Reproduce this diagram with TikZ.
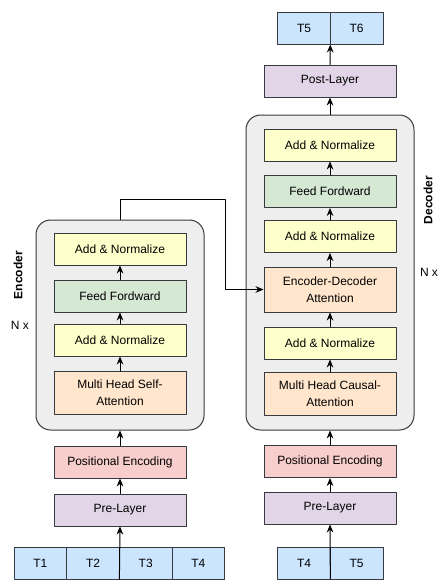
\documentclass[tikz,border=0pt]{standalone}
\usepackage{fontspec}
\setmainfont{Liberation Sans}
\usetikzlibrary{arrows}
\usetikzlibrary{arrows.meta}
\usetikzlibrary{positioning}

\definecolor{edgegray}{HTML}{36393D}
\definecolor{stackfill}{HTML}{EEEEEE}
\definecolor{addfill}{HTML}{FFFFCC}
\definecolor{ffwdfill}{HTML}{D5E8D4}
\definecolor{attnfill}{HTML}{FFE6CC}
\definecolor{posfill}{HTML}{F8CECC}
\definecolor{layerfill}{HTML}{E1D5E7}
\definecolor{tokfill}{HTML}{CCE5FF}

\tikzset{
  blk/.style={draw=edgegray,line width=0.75pt,minimum width=99pt,minimum height=24pt,
    inner sep=0pt,align=center,font=\fontsize{9}{12.5}\selectfont},
  addnorm/.style={blk,fill=addfill},
  ffwd/.style={blk,fill=ffwdfill},
  attn/.style={blk,fill=attnfill,minimum height=32.5pt},
  posenc/.style={blk,fill=posfill},
  layer/.style={blk,fill=layerfill},
  tok/.style={blk,fill=tokfill,minimum width=39.5pt,outer sep=0pt},
  stack/.style={draw=edgegray,fill=stackfill,line width=0.75pt,rounded corners=11pt,inner sep=0pt},
  side/.style={font=\fontsize{9}{11}\selectfont,inner sep=0pt},
  flow/.style={->,line width=0.75pt,black},
}

\begin{document}
\begin{tikzpicture}[line cap=round,line join=round,>={Stealth[length=6pt,width=5pt]},x=0.75pt,y=-0.75pt]
\useasboundingbox (0,0) rectangle (446,586);
% containers
\node[stack,minimum width=126pt,minimum height=157.5pt] (enc) at (120,325) {};
\node[stack,minimum width=126pt,minimum height=236.25pt] (dec) at (330,272.5) {};
\node[side,font=\fontsize{9}{11}\selectfont\bfseries,rotate=90] (enclab) at (18,275) {Encoder};
\node[side] (encn) at (20,325) {N x};
\node[side,font=\fontsize{9}{11}\selectfont\bfseries,rotate=90] (declab) at (428,200) {Decoder};
\node[side] (decn) at (429,272) {N x};

% encoder side
\node[tok] (t1) at (40.4,563) {T1};
\node[tok,right=0pt of t1] (t2) {T2};
\node[tok,right=0pt of t2] (t3) {T3};
\node[tok,right=0pt of t3] (t4) {T4};
\node[layer] (epre) at (120,510) {Pre-Layer};
\node[posenc] (epos) at (120,462) {Positional Encoding};
\node[attn] (eatt) at (120,393) {Multi Head Self-\\Attention};
\node[addnorm] (eadd1) at (120,340) {Add \& Normalize};
\node[ffwd] (effw) at (120,296) {Feed Fordward};
\node[addnorm] (eadd2) at (120,249) {Add \& Normalize};

% decoder side
\node[tok] (d4) at (304,563) {T4};
\node[tok,right=0pt of d4] (d5) {T5};
\node[layer] (dpre) at (330,508) {Pre-Layer};
\node[posenc] (dpos) at (330,461.5) {Positional Encoding};
\node[attn] (datt) at (330,394) {Multi Head Causal-\\Attention};
\node[addnorm] (dadd1) at (330,343) {Add \& Normalize};
\node[attn,minimum height=33.75pt] (dcross) at (330,289.5) {Encoder-Decoder\\Attention};
\node[addnorm] (dadd2) at (330,236.5) {Add \& Normalize};
\node[ffwd] (dffw) at (330,191.5) {Feed Fordward};
\node[addnorm] (dadd3) at (330,145) {Add \& Normalize};
\node[layer] (dpost) at (330,81) {Post-Layer};
\node[tok] (o5) at (304,28.5) {T5};
\node[tok,right=0pt of o5] (o6) {T6};

% arrows
\draw[flow] (t2.south east) -- (epre.south);
\draw[flow] (epre.north) -- (epos.south);
\draw[flow] (epos.north) -- (enc.south);
\draw[flow] (eatt.north) -- (eadd1.south);
\draw[flow] (eadd1.north) -- (effw.south);
\draw[flow] (effw.north) -- (eadd2.south);
\draw[flow] (d4.south east) -- (dpre.south);
\draw[flow] (dpre.north) -- (dpos.south);
\draw[flow] (dpos.north) -- (dec.south);
\draw[flow] (datt.north) -- (dadd1.south);
\draw[flow] (dadd1.north) -- (dcross.south);
\draw[flow] (dcross.north) -- (dadd2.south);
\draw[flow] (dadd2.north) -- (dffw.south);
\draw[flow] (dffw.north) -- (dadd3.south);
\draw[flow] (dec.north) -- (dpost.south);
\draw[flow] (dpost.north) -- (o5.south east);
\coordinate (bend) at (225,199);
\draw[flow] (enc.north) |- (bend) |- (dcross.west);
\end{tikzpicture}
\end{document}
